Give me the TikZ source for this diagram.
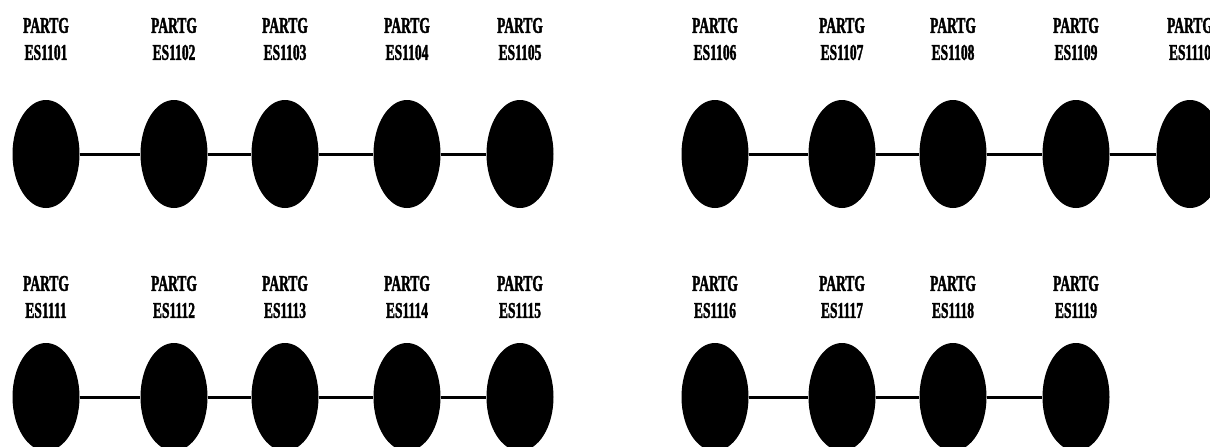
\documentclass[tikz,border=0pt]{standalone}
\usepackage{fontspec}
\usetikzlibrary{shapes.geometric}
\newfontfamily\labfont[FakeStretch=0.6,FakeBold=1.5,UprightFont={* Bold},BoldFont={* Bold}]{Liberation Serif}
\begin{document}
\begin{tikzpicture}[x=1pt,y=-1pt,
  dot/.style={ellipse,fill=black,draw=none,minimum width=67pt,minimum height=108pt,inner sep=0pt},
  lab/.style={align=center,inner sep=0pt,font=\labfont\fontsize{22.5}{27}\selectfont},
  link/.style={line width=3pt,black}]
\useasboundingbox (0,0) rectangle (1210,447);
% row 1
\foreach \n/\x in {1101/46,1102/174,1103/285,1104/407,1105/520,1106/715,1107/842,1108/953,1109/1076,1110/1190}{
  \node[dot] (e\n) at (\x,154) {};
  \node[lab] (l\n) at (\x,39) {PARTG\\ES\n};
}
% row 2
\foreach \n/\x in {1111/46,1112/174,1113/285,1114/407,1115/520,1116/715,1117/842,1118/953,1119/1076}{
  \node[dot] (e\n) at (\x,397) {};
  \node[lab] (l\n) at (\x,297) {PARTG\\ES\n};
}
\foreach \a/\b in {1101/1102,1102/1103,1103/1104,1104/1105,1106/1107,1107/1108,1108/1109,1109/1110,
                   1111/1112,1112/1113,1113/1114,1114/1115,1116/1117,1117/1118,1118/1119}{
  \draw[link] (e\a) -- (e\b);
}
\end{tikzpicture}
\end{document}
